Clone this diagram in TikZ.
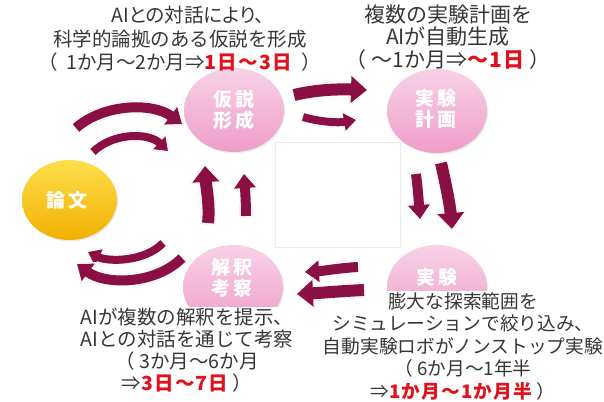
\documentclass[tikz,border=0pt]{standalone}
\usepackage{fontspec}
\setmainfont{Noto Sans CJK JP}
\newfontfamily\jpprop[RawFeature=+palt]{Noto Sans CJK JP}
\usetikzlibrary{arrows.meta,shapes.geometric,shadows}
\definecolor{arrowred}{HTML}{8A0F45}
\definecolor{pinkTop}{HTML}{F8D2E7}
\definecolor{pinkBot}{HTML}{EE9DC8}
\definecolor{yelTop}{HTML}{FDDF4C}
\definecolor{yelBot}{HTML}{F2B000}
\definecolor{txtgray}{HTML}{363636}
\definecolor{hired}{HTML}{E3101B}
\newcommand\hl[1]{{\bfseries\addfontfeatures{LetterSpace=6}\color{hired}#1}}
\newcommand\fatarrow[2]{%
  \draw[#1 edge, black!20, xshift=1.5pt, yshift=-1.5pt, shorten >=-2pt, shorten <=-1.5pt] #2;
  \draw[#1 edge, white, shorten >=-2pt, shorten <=-1.5pt] #2;
  \draw[#1 body, arrowred] #2;}
\tikzset{
  L body/.style={line width=12pt, -{Triangle[length=16pt,width=26pt]}},
  L edge/.style={line width=15pt, -{Triangle[length=19pt,width=31pt]}},
  M body/.style={line width=10pt, -{Triangle[length=14pt,width=21pt]}},
  M edge/.style={line width=13pt, -{Triangle[length=17pt,width=26pt]}},
  S body/.style={line width=8pt, -{Triangle[length=12pt,width=17pt]}},
  S edge/.style={line width=11pt, -{Triangle[length=15pt,width=22pt]}},
  pinkball/.style={ellipse, inner sep=0pt, minimum width=100pt, minimum height=84pt,
    top color=pinkTop, bottom color=pinkBot, draw=none,
    drop shadow={shadow xshift=1pt, shadow yshift=-1.5pt, opacity=0.15}},
  yellowball/.style={ellipse, inner sep=0pt, minimum width=95pt, minimum height=80pt,
    top color=yelTop, bottom color=yelBot, draw=none,
    drop shadow={shadow xshift=1pt, shadow yshift=-1.5pt, opacity=0.15}},
  balltext/.style={text=white, font=\fontsize{19}{21.5}\selectfont\bfseries, align=center, inner sep=0pt},
  tblock/.style={text=txtgray, align=center, inner sep=1pt, anchor=base},
}
\begin{document}
\begin{tikzpicture}[x=1pt, y=-1pt]
\useasboundingbox (0,0) rectangle (604,401);
% faint frame in the middle
\node[draw=black!7, inner sep=0pt, minimum width=125pt, minimum height=105pt] (frame) at (337.5,194.5) {};
% circles
\node[pinkball] (hyp) at (234,110) {};
\node[pinkball] (plan) at (437,111) {};
\node[pinkball] (exp) at (437,287) {};
\node[pinkball] (interp) at (233,287) {};
\node[yellowball] (paper) at (69.5,200) {};
% text blocks (anchor = baseline of the last line)
\node[tblock, font=\fontsize{19.5}{23.5}\selectfont] (tl) at (180,70)
  {\hspace{16pt}{\jpprop AIとの対話により、}\\科学的論拠のある仮説を形成\\（\hspace{8pt}1か月～2か月⇒\hl{1日～3日}\hspace{10pt}）};
\node[tblock, font=\fontsize{21}{22.5}\selectfont] (tr) at (448,67.5)
  {複数の実験計画を\\AIが自動生成\\（ ～1か月⇒\hl{～1日} ）};
\node[tblock, fill=white, font=\fontsize{19.5}{22}\selectfont] (bl) at (187,390)
  {AIが複数の解釈を提示、\\AIとの対話を通じて考察\\（ 3か月～6か月\\⇒\hl{3日～7日} ）};
\node[tblock, fill=white, font=\fontsize{18.7}{22.5}\selectfont] (br) at (463,398)
  {膨大な探索範囲を\\シミュレーションで絞り込み、\\自動実験ロボがノンストップ実験\\（ 6か月～1年半\\⇒\hl{1か月～1か月半} ）};
% circle labels
\node[balltext] (hypT) at (234,110) {仮\hspace{3pt}説\\形\hspace{3pt}成};
\node[balltext] (planT) at (436,109) {実\hspace{3pt}験\\計\hspace{3pt}画};
\node[balltext] (expT) at (437,277) {実\hspace{3pt}験};
\node[balltext] (interpT) at (232,278) {解\hspace{3pt}釈\\考\hspace{3pt}察};
\node[balltext] (paperT) at (67,200) {論\hspace{3pt}文};
% arrow end points
\coordinate (A1s) at (76,128);  \coordinate (A1e) at (182,124);
\coordinate (A2s) at (93,152);  \coordinate (A2e) at (168,151);
\coordinate (B1s) at (294,95);  \coordinate (B1e) at (367,90);
\coordinate (B2s) at (303,117); \coordinate (B2e) at (356,120);
\coordinate (C1s) at (416,174); \coordinate (C1e) at (420,219);
\coordinate (C2s) at (441,163); \coordinate (C2e) at (452,229);
\coordinate (D1s) at (358,267); \coordinate (D1e) at (305,272);
\coordinate (D2s) at (364,290); \coordinate (D2e) at (297,294);
\coordinate (E1s) at (163,243); \coordinate (E1e) at (88,252);
\coordinate (E2s) at (182,258); \coordinate (E2e) at (77,264);
\coordinate (F1s) at (208,223); \coordinate (F1e) at (205,166);
\coordinate (F2s) at (246,216); \coordinate (F2e) at (244,174);
% arrows
\fatarrow{M}{(A1s) .. controls +(27,-24) and +(-30,-22) .. (A1e)}
\fatarrow{S}{(A2s) .. controls +(19,-19) and +(-20,-19) .. (A2e)}
\fatarrow{L}{(B1s) .. controls +(21,-5) and +(-32,-1) .. (B1e)}
\fatarrow{S}{(B2s) .. controls +(17,5) and +(-18,3) .. (B2e)}
\fatarrow{M}{(C1s) .. controls +(2,16) and +(-1,-14) .. (C1e)}
\fatarrow{L}{(C2s) .. controls +(5,22) and +(-2,-24) .. (C2e)}
\fatarrow{M}{(D1s) .. controls +(-18,1) and +(18,-1) .. (D1e)}
\fatarrow{L}{(D2s) .. controls +(-22,1) and +(22,-1) .. (D2e)}
\fatarrow{S}{(E1s) .. controls +(-18,19) and +(20,10) .. (E1e)}
\fatarrow{M}{(E2s) .. controls +(-27,27) and +(28,21) .. (E2e)}
\fatarrow{L}{(F1s) .. controls +(2,-18) and +(1,20) .. (F1e)}
\fatarrow{M}{(F2s) .. controls +(0,-14) and +(1,14) .. (F2e)}
\end{tikzpicture}
\end{document}
